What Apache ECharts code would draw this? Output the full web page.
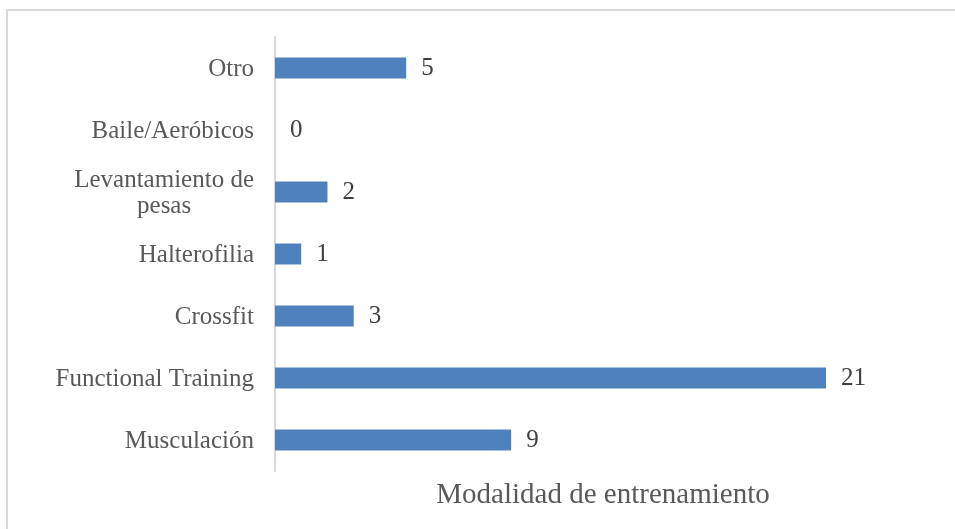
<!DOCTYPE html>
<html lang="es">
<head>
    <meta charset="UTF-8">
    <title>Modalidad de entrenamiento</title>
    <script src="https://cdn.jsdelivr.net/npm/echarts@6/dist/echarts.min.js"></script>
    <style>
        html, body { margin: 0; padding: 0; background: #fff; }
    </style>
</head>
<body>
<div id="main" style="width: 955px;height:529px;"></div>
<script>
    // categories listed bottom to top, as the y axis draws them
    var categories = ['Musculación', 'Functional Training', 'Crossfit', 'Halterofilia', 'Levantamiento de\npesas', 'Baile/Aeróbicos', 'Otro'];
    var counts = [9, 21, 3, 1, 2, 0, 5];
    var axisTitle = 'Modalidad de entrenamiento';

    var serif = 'Liberation Serif';
    var myChart = echarts.init(document.getElementById('main'));

    myChart.setOption({
        animation: false,
        graphic: [{
            type: 'rect',
            shape: {x: 7, y: 10, width: 960, height: 540},
            style: {fill: 'none', stroke: '#d9d9d9', lineWidth: 2}
        }],
        grid: {
            left: 275,
            right: 24,
            top: 37,
            bottom: 58
        },
        xAxis: {
            type: 'value',
            min: 0,
            max: 25,
            axisLine: {show: false},
            axisTick: {show: false},
            axisLabel: {show: false},
            splitLine: {show: false},
            name: axisTitle,
            nameLocation: 'middle',
            nameGap: 10,
            nameTextStyle: {
                fontFamily: serif,
                fontSize: 29,
                color: '#595959',
                verticalAlign: 'top'
            }
        },
        yAxis: {
            type: 'category',
            data: categories,
            axisLine: {lineStyle: {color: '#d9d9d9', width: 2}},
            axisTick: {length: 8, lineStyle: {color: '#d9d9d9', width: 2}},
            axisLabel: {
                fontFamily: serif,
                fontSize: 25,
                color: '#595959',
                margin: 21,
                formatter: function (name) {
                    // wrapped labels are centred line by line
                    return name.split('\n').map(function (s) {
                        return '{c|' + s + '}';
                    }).join('\n');
                },
                rich: {
                    c: {
                        fontFamily: serif,
                        fontSize: 25,
                        color: '#595959',
                        lineHeight: 26,
                        align: 'center',
                        padding: [3, 0, 0, 0]
                    }
                }
            }
        },
        series: [{
            type: 'bar',
            data: counts,
            barWidth: 21,
            itemStyle: {color: '#4f81bd'},
            label: {
                show: true,
                position: 'right',
                distance: 15,
                fontFamily: serif,
                fontSize: 25,
                color: '#404040'
            }
        }]
    });
</script>
</body>
</html>
